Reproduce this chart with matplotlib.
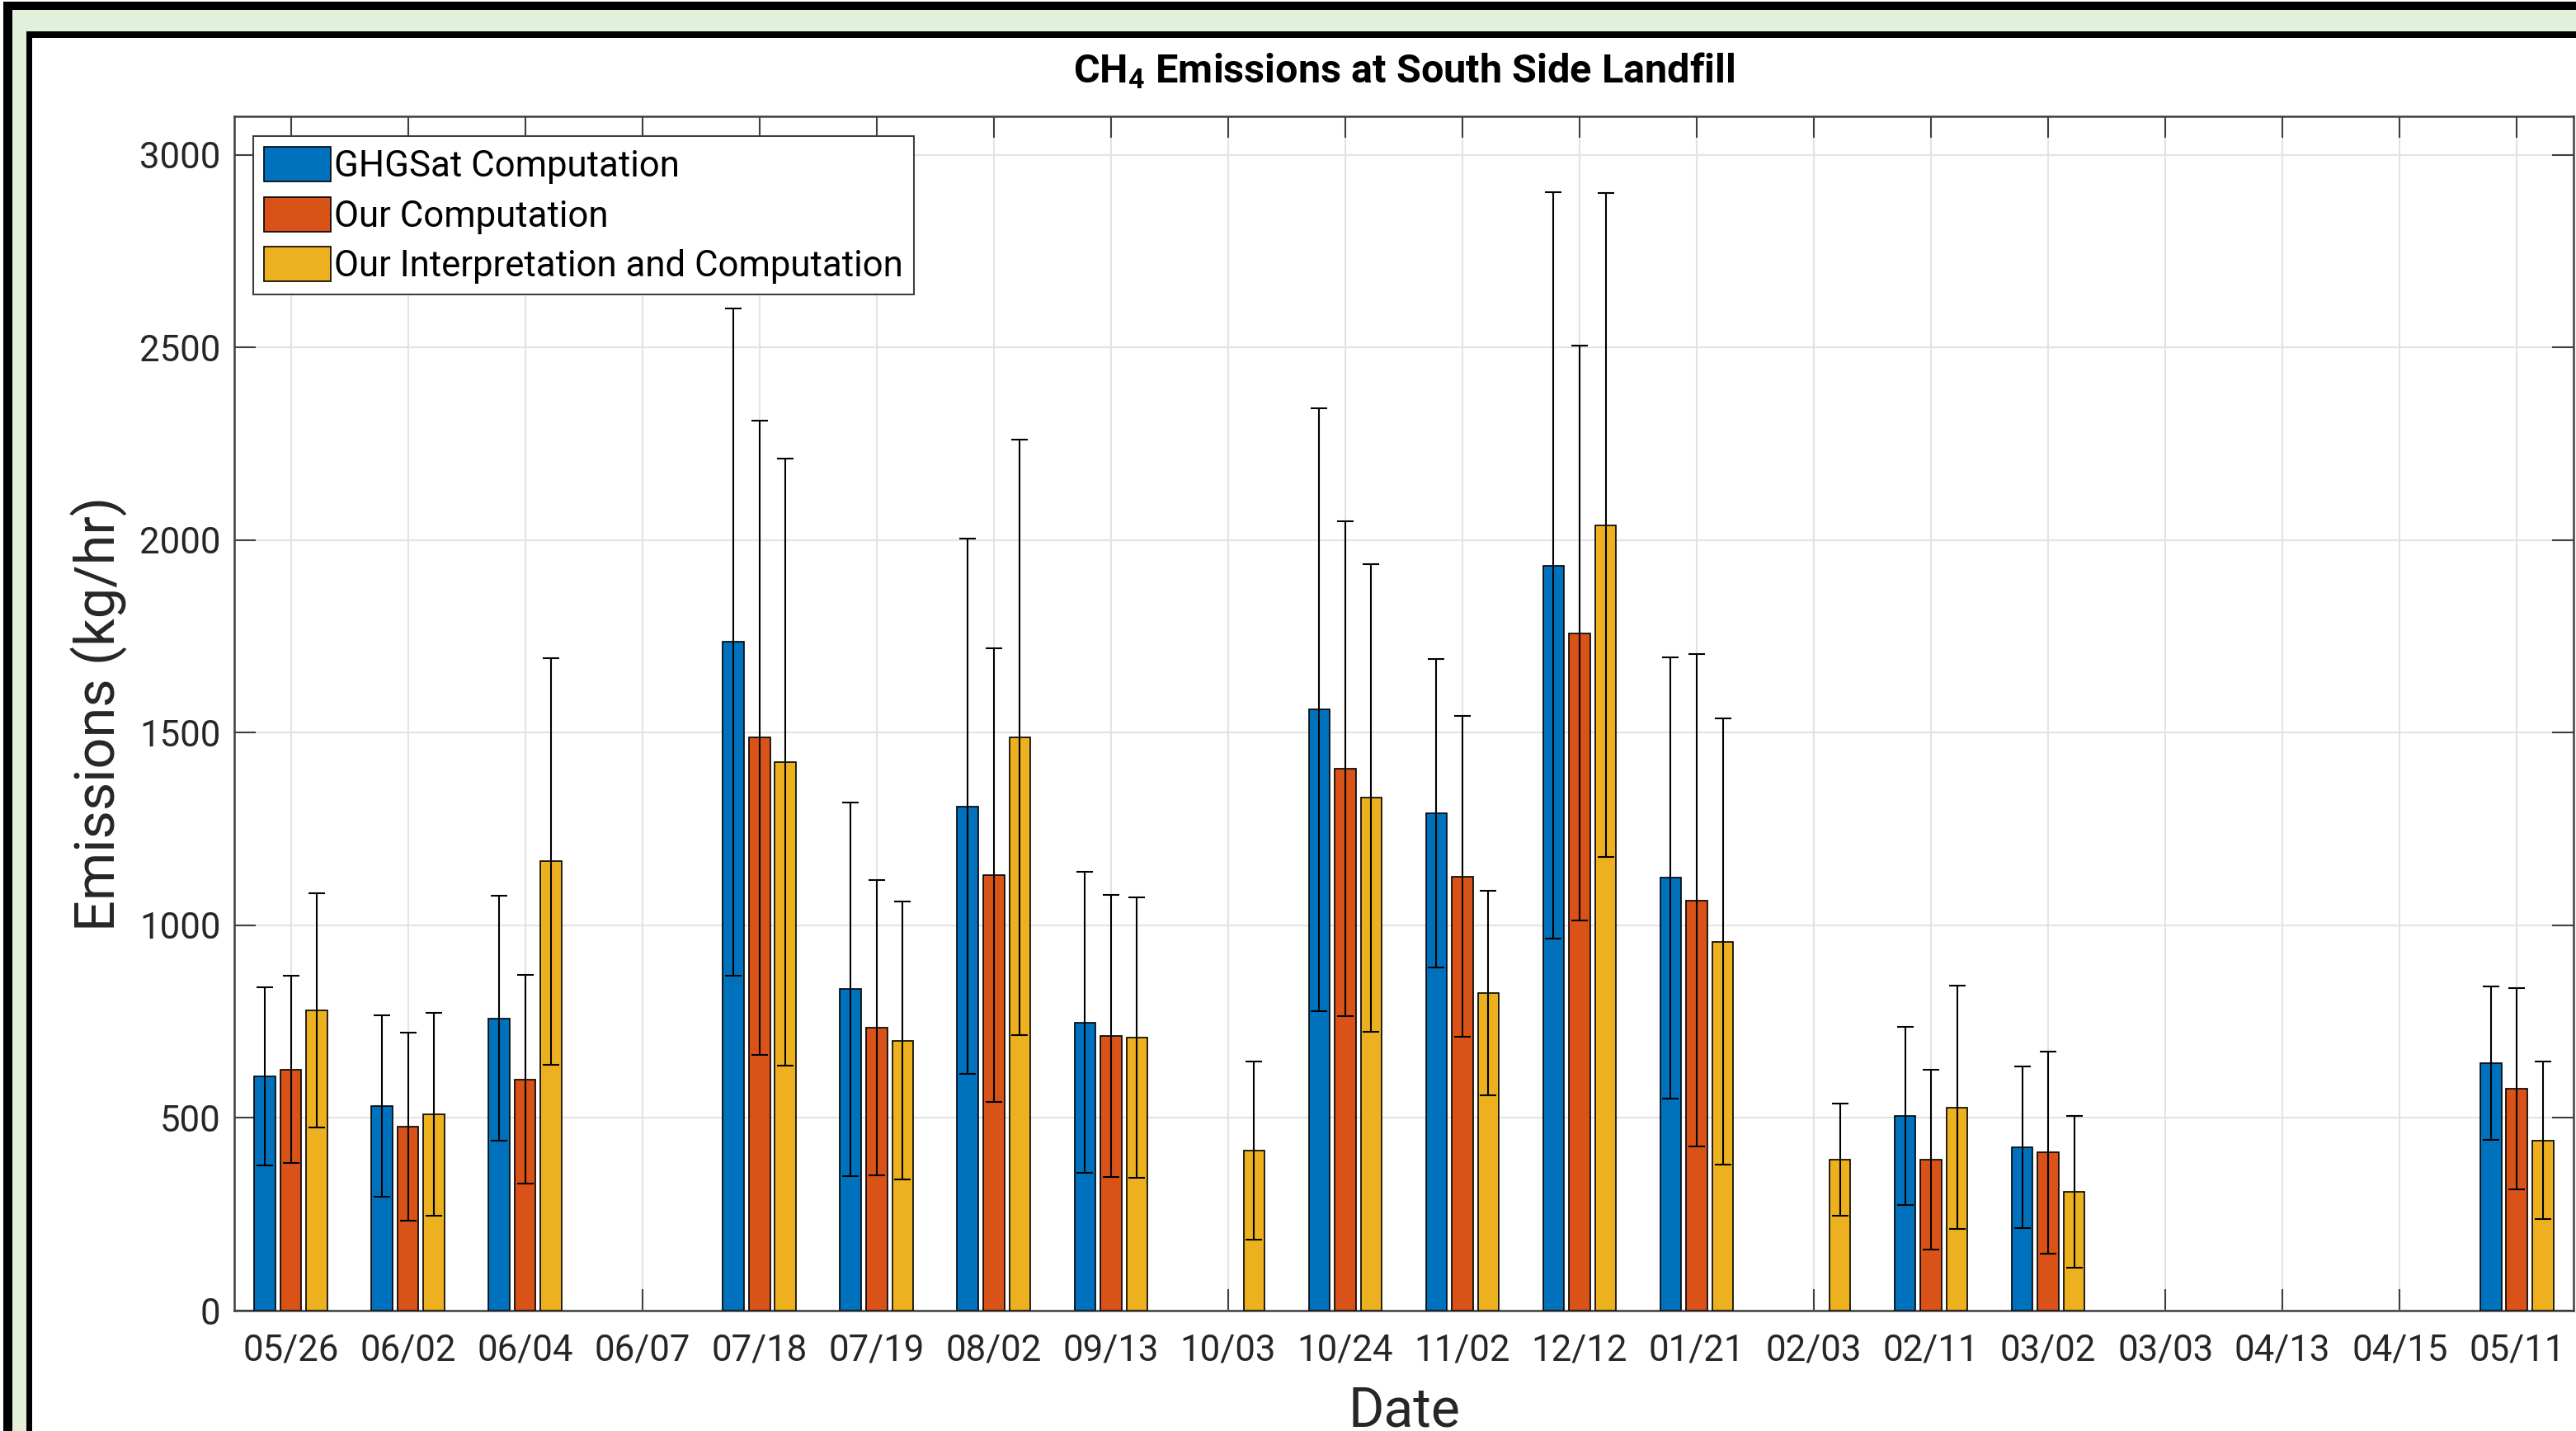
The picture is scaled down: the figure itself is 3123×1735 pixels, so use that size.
import matplotlib
matplotlib.use("Agg")
import matplotlib.pyplot as plt
import numpy as np
from matplotlib.patches import Rectangle

# --- data (kg/hr) ---
dates = ["05/26", "06/02", "06/04", "06/07", "07/18", "07/19", "08/02", "09/13", "10/03", "10/24",
         "11/02", "12/12", "01/21", "02/03", "02/11", "03/02", "03/03", "04/13", "04/15", "05/11"]
nan = np.nan
ghgsat = [608, 531, 758, nan, 1736, 834, 1309, 748, nan, 1560,
          1291, 1934, 1123, nan, 505, 424, nan, nan, nan, 642]
ghgsat_err = [231, 236, 318, nan, 866, 485, 694, 390, nan, 782,
              400, 968, 573, nan, 232, 210, nan, nan, nan, 199]
ours = [626, 477, 600, nan, 1487, 735, 1131, 713, nan, 1406,
        1127, 1758, 1065, nan, 392, 410, nan, nan, nan, 576]
ours_err = [243, 244, 271, nan, 823, 383, 589, 366, nan, 642,
            417, 746, 640, nan, 233, 262, nan, nan, nan, 261]
interp = [780, 509, 1166, nan, 1424, 701, 1487, 709, 416, 1331,
          824, 2039, 958, 392, 527, 309, nan, nan, nan, 442]
interp_err = [304, 263, 527, nan, 788, 361, 773, 364, 231, 607,
              266, 862, 580, 145, 316, 197, nan, nan, nan, 204]

series = [
    ("GHGSat Computation", ghgsat, ghgsat_err, "#0072BD"),
    ("Our Computation", ours, ours_err, "#D95319"),
    ("Our Interpretation and Computation", interp, interp_err, "#EDB120"),
]

plt.rcParams["font.family"] = ["Roboto", "DejaVu Sans"]
plt.rcParams["mathtext.default"] = "regular"

W, H = 3123, 1735
fig = plt.figure(figsize=(W / 100, H / 100), dpi=100)
fig.patch.set_facecolor("white")

# page-like frame: black / green / black / white, cropped on right and bottom
def frame(x0, y0, color, z):
    fig.patches.append(Rectangle((x0 / W, -0.5), 2.0, 1.5 - y0 / H, transform=fig.transFigure,
                                 facecolor=color, edgecolor="none", zorder=z))

frame(4, 2, "black", -10)
frame(15, 12, "#e2efda", -9)
frame(32, 38, "black", -8)
frame(39, 46, "white", -7)

ax = fig.add_axes([284 / W, 1 - 1589 / H, (3120 - 284) / W, (1589 - 141) / H])
ax.set_facecolor("white")

x = np.arange(1, len(dates) + 1)
offsets = [-0.222, 0.0, 0.222]
width = 0.18
for (label, vals, errs, color), off in zip(series, offsets):
    ax.bar(x + off, vals, width, color=color, edgecolor="black", linewidth=1.2,
           label=label, zorder=3)
    ax.errorbar(x + off, vals, yerr=errs, fmt="none", ecolor="black", elinewidth=1.5,
                capsize=7, capthick=1.5, zorder=4)

ax.set_xlim(0.517, 20.484)
ax.set_ylim(0, 3100)
ax.set_xticks(x)
ax.set_xticklabels(dates)
ax.set_yticks(np.arange(0, 3001, 500))
ax.tick_params(axis="both", which="major", direction="in", length=19, width=1.5,
               color="#404040", labelcolor="#262626", labelsize=31.5,
               top=True, right=True)
ax.tick_params(axis="x", pad=20)
ax.tick_params(axis="y", pad=12)
for sp in ax.spines.values():
    sp.set_color("#404040")
    sp.set_linewidth(1.8)
ax.grid(True, color="#e3e3e3", linewidth=1.5, zorder=0)
ax.set_axisbelow(True)

leg = ax.legend(loc="upper left", bbox_to_anchor=(0.0081, 0.9834), fontsize=31.5,
                frameon=True, fancybox=False, shadow=False, framealpha=1,
                handlelength=1.85, handleheight=1.1, handletextpad=0.1,
                labelspacing=0.36, borderpad=0.3, borderaxespad=0)
leg.get_frame().set_edgecolor("#404040")
leg.get_frame().set_linewidth(1.5)

cx = (284 + 3120) / 2 / W
fig.text(cx, 1 - 100 / H, r"CH$_{4}$ Emissions at South Side Landfill",
         family=["Roboto", "DejaVu Sans"], weight="bold", fontsize=35,
         ha="center", va="baseline", color="black")
fig.text(120 / W, 1 - 865 / H, "Emissions (kg/hr)", rotation=90, fontsize=48,
         ha="center", va="center", color="#262626")
fig.text(cx, 1 - 1729 / H, "Date", fontsize=47.5, ha="center", va="baseline", color="#262626")

fig.savefig("out.png", dpi=100, facecolor="white")
